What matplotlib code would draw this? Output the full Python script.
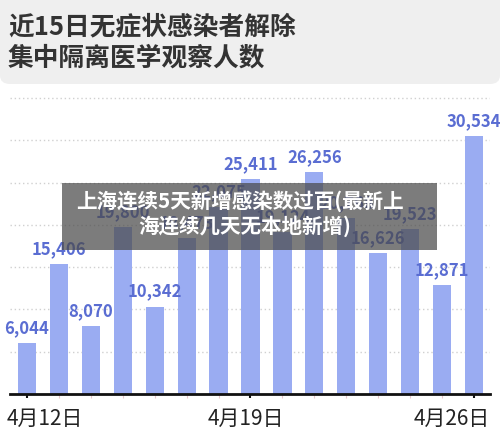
import matplotlib
matplotlib.use('Agg')
import matplotlib.pyplot as plt
import matplotlib.transforms as mtransforms
from matplotlib.patches import FancyBboxPatch, Rectangle

plt.rcParams['font.family'] = ['Noto Sans CJK SC', 'DejaVu Sans']

# 数据
dates = ['4月12日', '4月13日', '4月14日', '4月15日', '4月16日', '4月17日', '4月18日', '4月19日',
         '4月20日', '4月21日', '4月22日', '4月23日', '4月24日', '4月25日', '4月26日']
values = [6044, 15406, 8070, 19800, 10342, 18473, 22075, 25411,
          19124, 26256, 20768, 16626, 19523, 12871, 30534]
shown_ticks = ['4月12日', '4月19日', '4月26日']

title_lines = ['近15日无症状感染者解除', '集中隔离医学观察人数']
overlay_lines = ['上海连续5天新增感染数过百(最新上', '海连续几天无本地新增)']

bar_color = '#9aacf2'
label_color = '#5a6dd2'

fig = plt.figure(figsize=(5, 4.35), dpi=100)
fig.patch.set_facecolor('white')

# 标题背景
fig.patches.append(FancyBboxPatch((0.0, 1 - 85 / 435), 1.0, 85 / 435 + 0.05,
                                  boxstyle='round,pad=0,rounding_size=0.02',
                                  transform=fig.transFigure, facecolor='#efefef',
                                  edgecolor='none', zorder=0))
fig.text(0.016, 1 - 27 / 435, title_lines[0], fontsize=18.5, fontweight='bold',
         color='#333333', va='center', ha='left')
fig.text(0.016, 1 - 58 / 435, title_lines[1], fontsize=18.5, fontweight='bold',
         color='#333333', va='center', ha='left')

ax = fig.add_axes([0.02, 1 - 395 / 435, 0.96, 300 / 435])
x = list(range(len(values)))
ax.bar(x, values, width=0.57, color=bar_color, zorder=2)
for xi, v in zip(x, values):
    ax.annotate(f'{v:,}', (xi, v), xytext=(0, 5), textcoords='offset points',
                ha='center', va='bottom', fontsize=12, fontweight='bold',
                color=label_color, zorder=3)

ax.set_xlim(-0.53, 14.5)
ax.set_ylim(0, 35500)
ax.set_yticks(range(5000, 35001, 5000))
ax.yaxis.grid(True, linestyle=(0, (1, 2)), color='#d0d0d0', linewidth=1, zorder=0)
ax.tick_params(axis='y', left=False, labelleft=False)
for s in ['top', 'right', 'left']:
    ax.spines[s].set_visible(False)
ax.spines['bottom'].set_linewidth(2)
ax.spines['bottom'].set_color('#111111')

major = [dates.index(d) for d in shown_ticks]
ax.set_xticks(major)
ax.set_xticklabels(shown_ticks, fontsize=15, color='#222222')
ax.set_xticks([i for i in x if i not in major], minor=True)
ax.tick_params(axis='x', which='major', length=3, width=1.5, color='#111111', pad=6)
ax.tick_params(axis='x', which='minor', length=3, width=0.8, color='#e8c8cc')

offsets = [(-20, 'left'), (-5, 'center'), (16, 'right')]
for lab, (dx, ha) in zip(ax.get_xticklabels(), offsets):
    lab.set_ha(ha)
    lab.set_transform(lab.get_transform() +
                      mtransforms.ScaledTranslation(dx / 100, 0, fig.dpi_scale_trans))

# 覆盖的半透明文字框
fig.patches.append(Rectangle((62 / 500, 1 - 251 / 435), 375 / 500, 67 / 435,
                             transform=fig.transFigure, facecolor='#4a4a4a',
                             alpha=0.72, edgecolor='none', zorder=5))
fig.text(240 / 500, 1 - 201 / 435, overlay_lines[0], fontsize=14.8, fontweight='bold',
         color='white', ha='center', va='center', zorder=6)
fig.text(245 / 500, 1 - 226 / 435, overlay_lines[1], fontsize=14.8, fontweight='bold',
         color='white', ha='center', va='center', zorder=6)

fig.savefig('out.png', dpi=100)
